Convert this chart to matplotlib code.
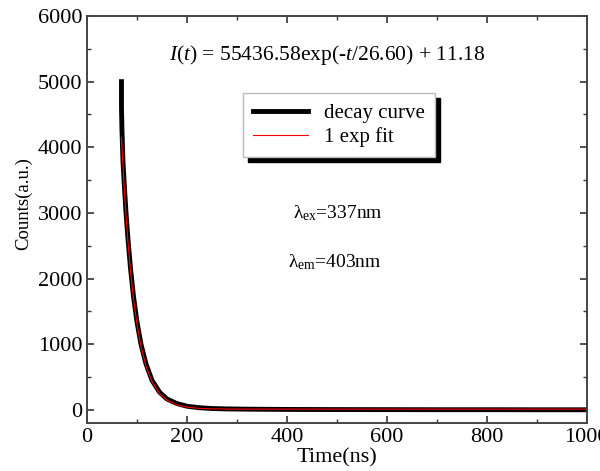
import matplotlib
matplotlib.use("Agg")
import matplotlib.pyplot as plt
from matplotlib.ticker import MultipleLocator

# ---- data ----
decay_t = [69, 69, 70, 72, 75, 78, 82, 87, 93, 100, 108, 118, 130, 145, 160, 180,
           200, 225, 250, 280, 320, 400, 500, 600, 700, 800, 900, 1000]
decay_c = [5000, 4600, 4250, 3780, 3380, 3010, 2600, 2160, 1730, 1340, 1000, 700,
           450, 270, 165, 95, 55, 32, 20, 14, 10, 6, 4, 3, 2, 2, 1, 1]

fit_t = [69, 70, 72, 75, 78, 82, 87, 93, 100, 108, 118, 130, 145, 160, 180,
         200, 225, 250, 280, 320, 400, 500, 600, 700, 800, 900, 1000]
fit_c = [4150, 4000, 3710, 3316, 2964, 2551, 2116, 1691, 1303, 967, 667, 429,
         249, 146, 75, 41, 22, 15, 12, 11, 11, 11, 11, 11, 11, 11, 11]

equation = r"$I$($t$) = 55436.58exp(-$t$/26.60) + 11.18"
ex_label = "λ$_{\\mathregular{ex}}$=337nm"
em_label = "λ$_{\\mathregular{em}}$=403nm"

plt.rcParams['font.family'] = ['Liberation Serif', 'DejaVu Serif']
plt.rcParams['mathtext.fontset'] = 'custom'
plt.rcParams['mathtext.rm'] = 'Liberation Serif'
plt.rcParams['mathtext.it'] = 'Liberation Serif:italic'

fig = plt.figure(figsize=(6.0, 4.71), dpi=100)
ax = fig.add_axes([0.145, 0.102, 0.833, 0.864])

ax.plot(decay_t, decay_c, color='black', lw=3.5, label='decay curve',
        solid_joinstyle='round')
ax.plot(fit_t, fit_c, color='red', lw=0.8, label='1 exp fit')

ax.set_xlim(0, 1000)
ax.set_ylim(-200, 6000)
ax.xaxis.set_major_locator(MultipleLocator(200))
ax.xaxis.set_minor_locator(MultipleLocator(100))
ax.yaxis.set_major_locator(MultipleLocator(1000))
ax.yaxis.set_minor_locator(MultipleLocator(500))
ax.tick_params(which='both', direction='in', top=True, right=True,
               labelsize=16, color='#333333')
ax.tick_params(which='major', length=5, width=1.2)
ax.tick_params(which='minor', length=3, width=1.0)
for s in ax.spines.values():
    s.set_linewidth(1.4)
    s.set_color('#444444')

ax.set_xlabel('Time(ns)', fontsize=16, labelpad=1)
ax.set_ylabel('Counts(a.u.)', fontsize=13.5)
ax.yaxis.set_label_coords(-0.11, 0.538)

leg = ax.legend(loc='upper left', bbox_to_anchor=(0.312, 0.811), borderaxespad=0,
                fontsize=15, handlelength=2.6, fancybox=False, frameon=True,
                edgecolor='#bbbbbb', borderpad=0.5, labelspacing=0.2,
                shadow={'color': 'black', 'alpha': 1.0, 'ox': 3.5, 'oy': -3.5})
leg.get_frame().set_linewidth(1.0)

ax.text(0.48, 0.904, equation, transform=ax.transAxes, ha='center', va='center',
        fontsize=15.5)
ax.text(0.412, 0.516, ex_label, transform=ax.transAxes, ha='left', va='center',
        fontsize=14)
ax.text(0.402, 0.396, em_label, transform=ax.transAxes, ha='left', va='center',
        fontsize=14)

fig.savefig('out.png', dpi=100)
